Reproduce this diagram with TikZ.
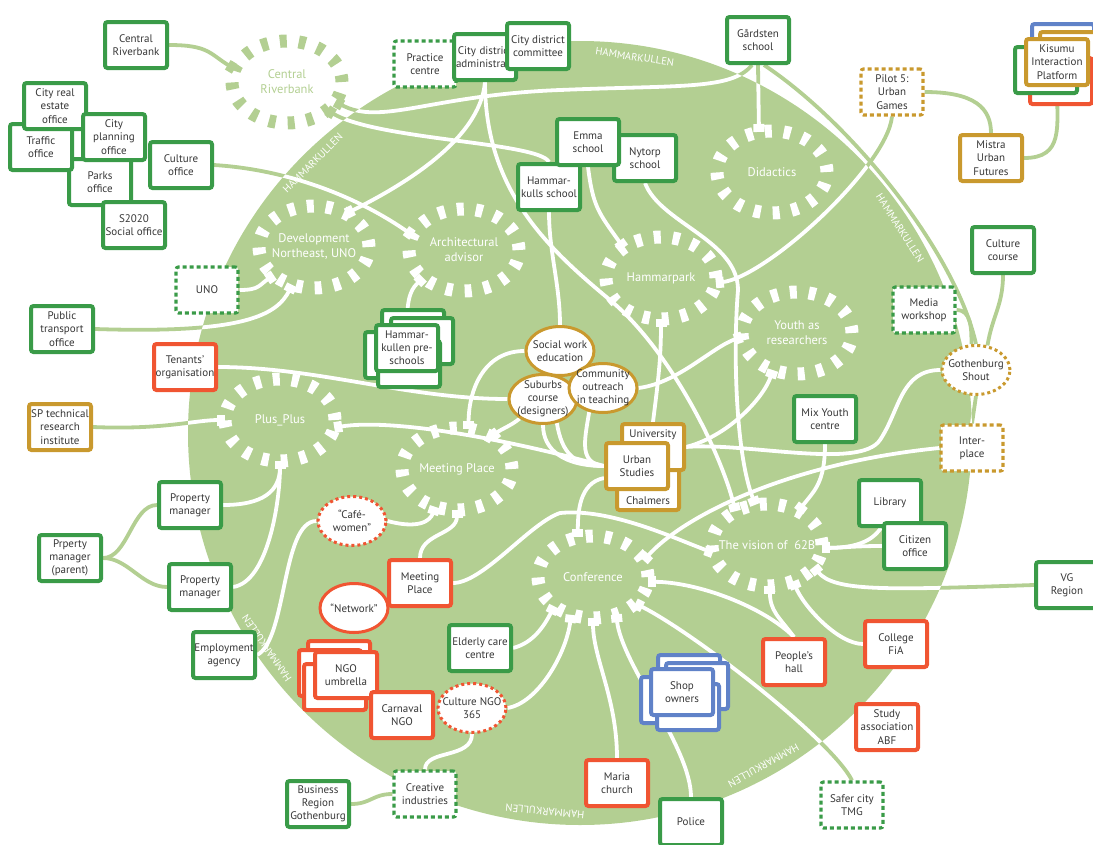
\documentclass[tikz,border=0pt]{standalone}
\usepackage{fontspec}
\setmainfont{PT Sans}
\usetikzlibrary{arrows.meta,shapes.geometric,calc}

\definecolor{disc}{RGB}{179,207,146}
\definecolor{cgreen}{RGB}{58,155,72}
\definecolor{cred}{RGB}{240,85,50}
\definecolor{cgold}{RGB}{201,153,46}
\definecolor{cblue}{RGB}{96,130,200}
\definecolor{txt}{RGB}{55,55,55}

\newcommand\bxfont{\fontsize{11}{13.2}\selectfont}
\newcommand\plfont{\fontsize{12.5}{15}\selectfont}
\newcommand\hkfont{\fontsize{10.5}{11}\selectfont}

\pgfdeclarelayer{disclayer}
\pgfdeclarelayer{linklayer}
\pgfsetlayers{disclayer,linklayer,main}

\tikzset{
  box/.style={rectangle, draw, rounded corners=2.5pt, line width=4pt, fill=white,
    minimum width=62pt, minimum height=46pt, inner sep=1pt, align=center, text=txt, font=\bxfont},
  gbox/.style={box, draw=cgreen},
  rbox/.style={box, draw=cred},
  ybox/.style={box, draw=cgold},
  bbox/.style={box, draw=cblue},
  dbox/.style={dash pattern=on 4pt off 3pt, line width=3.2pt},
  oval/.style={ellipse, draw, line width=3pt, fill=white, minimum width=68pt, minimum height=49pt,
    inner sep=-6pt, align=center, text=txt, font=\bxfont},
  place/.style={ellipse, minimum width=110pt, minimum height=82pt, inner sep=-25pt,
    align=center, text=white, font=\plfont},
  hk/.style={text=white, font=\hkfont, inner sep=0pt},
  lk/.style={draw=disc, line width=3.8pt},
  lka/.style={lk, -{Rectangle[length=8pt,width=11pt]}},
  rg/.style={lk, line width=13pt, dash pattern=on 7pt off 12pt},
}

% every connector, drawn once in light green and once in white inside the disc
\newcommand\drawlinks{%
  \foreach \p in {cr,dev,arch,did,hp,youth,pp,mp,conf,vis}
    \draw[rg] (\p.center) ellipse [x radius=55pt, y radius=41pt];
  \draw[lka] (crbox.east) .. controls +(40,0) and +(-25,-15) .. (cr.166);
  \draw[lka] (culture.east) .. controls +(80,5) and +(-50,-35) .. (arch.164);
  \draw[lka] (admin.south) .. controls +(-5,60) and +(50,-25) .. (dev.46);
  \draw[lka] (admin.south) .. controls +(0,110) and +(-60,-50) .. (610,300)
    .. controls +(60,50) and +(-15,-60) .. (vis.133);
  \draw[lka] (emma.south) .. controls +(5,40) and +(-25,-35) .. (hp.141);
  \draw[lka] (nytorp.south) .. controls +(15,40) and +(0,-50) .. (738,290)
    .. controls +(-5,60) and +(-20,-50) .. (vis.106);
  \draw[lka] (gard.south) -- (did.108);
  \draw[lk] ([xshift=6pt]gard.south) .. controls +(90,60) and +(-20,-90) .. (shout.north);
  \draw[lka] ([xshift=-6pt]gard.south) .. controls +(-20,25) and +(120,-5) .. (560,90)
    .. controls +(-130,5) and +(45,25) .. (cr.338);
  \draw[lka] (hks.north) .. controls +(-10,-20) and +(50,30) .. (cr.325);
  \draw[lka] (pilot.south) .. controls +(-5,50) and +(50,-5) .. (hp.355);
  \draw[lk] (pilot.east) .. controls +(50,0) and +(0,-25) .. (mistra.north);
  \draw[lk] (mistra.east) .. controls +(40,0) and +(0,40) .. (kisf.south);
  \draw[lk] (ccourse.south) .. controls +(0,30) and +(5,-30) .. (shout.65);
  \draw[lk] (media.east) .. controls +(15,0) and +(0,-15) .. (shout.100);
  \draw[lk] (shout.south) -- (inter.north);
  \draw[lk] (shout.west) .. controls +(-40,0) and +(20,-30) .. (880,440)
    .. controls +(-20,30) and +(60,-5) .. (uni.east);
  \draw[lka] (inter.west) .. controls +(-150,15) and +(40,-45) .. (conf.18);
  \draw[lka] (mix.south) .. controls +(0,40) and +(15,-20) .. (vis.47);
  \draw[lka] (citizen.west) .. controls +(-30,0) and +(20,0) .. (vis.357);
  \draw[lka] (library.250) .. controls +(-10,15) and +(30,0) .. (vis.357);
  \draw[lka] (vg.west) .. controls +(-150,5) and +(20,25) .. (vis.335);
  \draw[lka] (college.west) .. controls +(-25,0) and +(10,25) .. (vis.306);
  \draw[lka] (people.north) .. controls +(-15,-20) and +(0,25) .. (vis.274);
  \draw[lka] (people.north) .. controls +(-30,-30) and +(50,0) .. (conf.355);
  \draw[lka] (safer.north) .. controls +(-20,-40) and +(60,30) .. (conf.328);
  \draw[lka] (police.north) .. controls +(0,-50) and +(5,50) .. (conf.302);
  \draw[lka] (maria.north) .. controls +(0,-60) and +(0,40) .. (conf.270);
  \draw[lka] (cultngo.east) .. controls +(30,-5) and +(-5,40) .. (conf.240);
  \draw[lka] (elderly.east) .. controls +(20,-5) and +(-10,20) .. (conf.217);
  \draw[lk] (cultngo.south) .. controls +(0,25) and +(0,-20) .. (creative.north);
  \draw[lk] (creative.west) .. controls +(-20,0) and +(20,0) .. (brg.east);
  \draw[lka] (mpbox.east) .. controls +(30,0) and +(-30,10) .. (560,513)
    .. controls +(50,-5) and +(-40,-15) .. (vis.188);
  \draw[lka] (mpbox.north) .. controls +(0,-25) and +(0,25) .. (mp.270);
  \draw[lka] (cafe.east) .. controls +(30,8) and +(-5,15) .. (mp.240);
  \draw[lk] (emp.east) .. controls +(30,-15) and +(-35,0) .. (cafe.west);
  \draw[lka] (pmu.east) .. controls +(40,0) and +(0,30) .. (pp.270);
  \draw[lka] (pml.east) .. controls +(35,-5) and +(0,40) .. (pp.270);
  \draw[lk] (parent.east) .. controls +(25,0) and +(-25,0) .. (pmu.west);
  \draw[lk] (parent.east) .. controls +(25,0) and +(-25,0) .. (pml.west);
  \draw[lka] (sp.east) .. controls +(70,3) and +(-30,0) .. (pp.180);
  \draw[lka] (us.west) .. controls +(-90,-25) and +(60,-10) .. (pp.352);
  \draw[lk] (tenants.east) .. controls +(100,0) and +(-100,0) .. (sub.west);
  \draw[lka] (pub.east) .. controls +(150,5) and +(-15,30) .. (dev.240);
  \draw[lka] (uno.east) .. controls +(20,0) and +(-15,10) .. (dev.215);
  \draw[lka] (pre.north) .. controls +(0,-30) and +(-10,10) .. (arch.214);
  \draw[lka] (soc.west) .. controls +(-40,0) and +(0,-40) .. (mp.74);
  \draw[lka] (sub.220) .. controls +(-10,8) and +(10,-8) .. (mp.43);
  \draw[lk] (sub.south) .. controls +(0,25) and +(-40,0) .. (us.west);
  \draw[lk] (sub.300) .. controls +(5,30) and +(-30,0) .. (us.west);
  \draw[lk] (com.240) .. controls +(-5,30) and +(-25,-3) .. (us.west);
  \draw[lka] (com.east) .. controls +(40,-5) and +(-30,10) .. (youth.184);
  \draw[lka] (uni.east) .. controls +(40,-10) and +(-10,30) .. (youth.237);
  \draw[lka] (uni.north) .. controls +(5,-40) and +(0,40) .. (hp.270);
  \draw[lka] (us.200) .. controls +(-25,5) and +(0,-25) .. (conf.111);
  \draw[lk] (hks.south) .. controls +(0,40) and +(0,-40) .. (soc.north);
}

\begin{document}
\begin{tikzpicture}[x=1pt,y=-1pt]
  \useasboundingbox (0,0) rectangle (1093,844);
  \begin{pgfonlayer}{disclayer}
    \fill[disc] (580,433) circle [radius=392pt];
  \end{pgfonlayer}
  \foreach \a/\n in {81.7/1,32.6/2,134.7/3,214.5/4,264.7/5,298.9/6}
    \node[hk, rotate=\a-90] (hk\n) at ($(580,433)+(-\a:380)$) {HAMMARKULLEN};

  % places
  \node[place, text=disc] (cr) at (287,82) {Central\\Riverbank};
  \node[place] (dev) at (314,247) {Development\\Northeast, UNO};
  \node[place] (arch) at (464,250) {Architectural\\advisor};
  \node[place] (did) at (772,172) {Didactics};
  \node[place] (hp) at (661,278) {Hammarpark};
  \node[place] (youth) at (797,333) {Youth as\\researchers};
  \node[place] (pp) at (280,420) {Plus\_Plus};
  \node[place] (mp) at (457,469) {Meeting Place};
  \node[place] (conf) at (593,577) {Conference};
  \node[place] (vis) at (767,545) {The vision of\ \ 62B};

  % top left offices
  \node[gbox] (crbox) at (136,45) {Central\\Riverbank};
  \node[gbox] (parks) at (100,182) {Parks\\office};
  \node[gbox] (traffic) at (41,147) {Traffic\\office};
  \node[gbox] (realest) at (55,106) {City real\\estate\\office};
  \node[gbox] (planning) at (114,137) {City\\planning\\office};
  \node[gbox] (s2020) at (134,225) {S2020\\Social office};
  \node[gbox] (culture) at (181,165) {Culture\\office};

  % top
  \node[gbox, dbox] (practice) at (425,64) {Practice\\centre};
  \node[gbox, text width=58pt] (admin) at (485,57) {City district\\administration};
  \node[gbox] (committee) at (538,46) {City district\\committee};
  \node[gbox] (hks) at (549,187) {Hammar-\\kulls school};
  \node[gbox] (nytorp) at (645,158) {Nytorp\\school};
  \node[gbox] (emma) at (588,142) {Emma\\school};
  \node[gbox] (gard) at (758,40) {Gårdsten\\school};
  \node[ybox, dbox] (pilot) at (892,92) {Pilot 5:\\Urban\\Games};
  \node[ybox] (mistra) at (991,158) {Mistra\\Urban\\Futures};
  \node[bbox] (kisb) at (1063,47) {};
  \node[ybox] (kisy) at (1071,55) {};
  \node[rbox] (kisr) at (1061,81) {};
  \node[gbox] (kisg) at (1046,70) {};
  \node[ybox] (kisf) at (1057,62) {Kisumu\\Interaction\\Platform};

  % right
  \node[gbox] (ccourse) at (1003,250) {Culture\\course};
  \node[gbox, dbox] (media) at (924,310) {Media\\workshop};
  \node[oval, draw=cgold, dash pattern=on 3pt off 3pt] (shout) at (976,370) {Gothenburg\\Shout};
  \node[ybox, dbox] (inter) at (972,448) {Inter-\\place};
  \node[gbox] (mix) at (825,419) {Mix Youth\\centre};
  \node[gbox] (library) at (890,503) {Library};
  \node[gbox] (citizen) at (915,546) {Citizen\\office};
  \node[gbox] (vg) at (1067,585) {VG\\Region};
  \node[rbox] (college) at (896,644) {College\\FiA};
  \node[rbox] (people) at (794,662) {People’s\\hall};
  \node[rbox] (abf) at (887,727) {Study\\association\\ABF};
  \node[gbox, dbox] (safer) at (852,805) {Safer city\\TMG};

  % bottom
  \node[gbox] (police) at (691,822) {Police};
  \node[rbox] (maria) at (617,783) {Maria\\church};
  \node[bbox] (shopa) at (689,678) {};
  \node[bbox] (shopb) at (697,686) {};
  \node[bbox] (shopc) at (672,700) {};
  \node[bbox] (shopd) at (688,707) {};
  \node[bbox] (shop) at (682,692) {Shop\\owners};
  \node[gbox] (elderly) at (480,648) {Elderly care\\centre};
  \node[oval, draw=cred, dash pattern=on 3pt off 3pt] (cultngo) at (472,708) {Culture NGO\\365};
  \node[rbox] (ngoa) at (339,664) {};
  \node[rbox] (ngob) at (330,673) {};
  \node[rbox] (ngoc) at (335,687) {};
  \node[rbox] (ngo) at (346,675) {NGO\\umbrella};
  \node[rbox] (carnaval) at (402,715) {Carnaval\\NGO};
  \node[oval, draw=cred] (network) at (354,608) {“Network”};
  \node[rbox] (mpbox) at (420,583) {Meeting\\Place};
  \node[oval, draw=cred, dash pattern=on 3pt off 3pt] (cafe) at (352,521) {“Café-\\women”};
  \node[gbox] (emp) at (224,655) {Employment\\agency};
  \node[gbox] (brg) at (318,804) {Business\\Region\\Gothenburg};
  \node[gbox, dbox] (creative) at (425,794) {Creative\\industries};

  % left
  \node[gbox] (pml) at (200,587) {Property\\manager};
  \node[gbox] (parent) at (70,558) {Prperty\\manager\\(parent)};
  \node[gbox] (pmu) at (190,505) {Property\\manager};
  \node[ybox] (sp) at (60,427) {SP technical\\research\\institute};
  \node[rbox] (tenants) at (185,367) {Tenants’\\organisation};
  \node[gbox] (pub) at (62,329) {Public\\transport\\office};
  \node[gbox, dbox] (uno) at (207,290) {UNO};

  % centre
  \node[gbox] (prea) at (413,333) {};
  \node[gbox] (preb) at (422,341) {};
  \node[gbox] (prec) at (396,355) {};
  \node[gbox] (pred) at (409,364) {};
  \node[gbox] (pre) at (407,348) {Hammar-\\kullen pre-\\schools};
  \node[oval, draw=cgold] (soc) at (560,351) {Social work\\education};
  \node[oval, draw=cgold] (sub) at (543,399) {Suburbs\\course\\(designers)};
  \node[oval, draw=cgold] (com) at (603,388) {Community\\outreach\\in teaching};
  \node[ybox, text height=39pt, text depth=5pt] (chal) at (648,487) {Chalmers};
  \node[ybox, text height=12pt, text depth=32pt] (uni) at (653,447) {University};
  \node[ybox] (us) at (637,466) {Urban\\Studies};

  \begin{pgfonlayer}{linklayer}
    \drawlinks
    \begin{scope}
      \clip (580,433) circle [radius=392pt];
      \tikzset{lk/.style={draw=white, line width=3.8pt}}
      \drawlinks
    \end{scope}
  \end{pgfonlayer}
\end{tikzpicture}
\end{document}
